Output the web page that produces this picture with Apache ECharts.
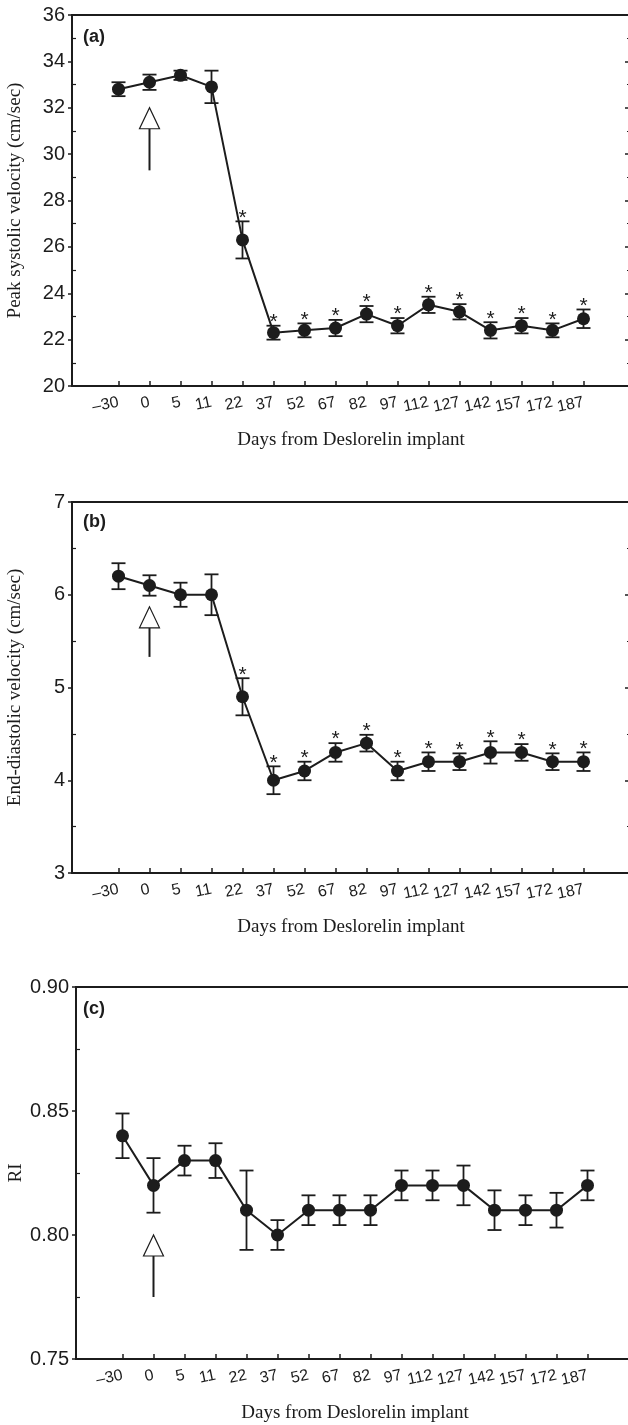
<!DOCTYPE html>
<html>
<head>
<meta charset="utf-8">
<script src="https://cdn.jsdelivr.net/npm/echarts@6/dist/echarts.min.js"></script>
<style>
  html, body { margin: 0; padding: 0; background: #fff; }
  #main { width: 628px; height: 1425px; }
</style>
</head>
<body>
<div id="main"></div>
<script>
// days from implant (x categories)
const days = ['\u201330', '0', '5', '11', '22', '37', '52', '67', '82', '97', '112', '127', '142', '157', '172', '187'];

// (a) peak systolic velocity, cm/sec
const psv    = [32.8, 33.1, 33.4, 32.9, 26.3, 22.3, 22.4, 22.5, 23.1, 22.6, 23.5, 23.2, 22.4, 22.6, 22.4, 22.9];
const psvErr = [0.3, 0.33, 0.2, 0.7, 0.8, 0.3, 0.3, 0.35, 0.35, 0.33, 0.35, 0.33, 0.35, 0.33, 0.3, 0.4];
const psvSig = [0, 0, 0, 0, 1, 1, 1, 1, 1, 1, 1, 1, 1, 1, 1, 1];

// (b) end-diastolic velocity, cm/sec
const edv    = [6.2, 6.1, 6.0, 6.0, 4.9, 4.0, 4.1, 4.3, 4.4, 4.1, 4.2, 4.2, 4.3, 4.3, 4.2, 4.2];
const edvErr = [0.14, 0.11, 0.13, 0.22, 0.2, 0.15, 0.1, 0.1, 0.09, 0.1, 0.1, 0.09, 0.12, 0.09, 0.09, 0.1];
const edvSig = [0, 0, 0, 0, 1, 1, 1, 1, 1, 1, 1, 1, 1, 1, 1, 1];

// (c) resistive index
const ri    = [0.84, 0.82, 0.83, 0.83, 0.81, 0.80, 0.81, 0.81, 0.81, 0.82, 0.82, 0.82, 0.81, 0.81, 0.81, 0.82];
const riErr = [0.009, 0.011, 0.006, 0.007, 0.016, 0.006, 0.006, 0.006, 0.006, 0.006, 0.006, 0.008, 0.008, 0.006, 0.007, 0.006];
const riSig = [0, 0, 0, 0, 0, 0, 0, 0, 0, 0, 0, 0, 0, 0, 0, 0];

// implant arrow: [x index, tip value, tail value]
const arrowA = [1, 32.0, 29.3];
const arrowB = [1, 5.87, 5.33];
const arrowC = [1, 0.80, 0.775];

// y-axis ticks
const yTicksA = { min: 20, max: 36, interval: 2, minor: [21, 23, 25, 27, 29, 31, 33, 35] };
const yTicksB = { min: 3, max: 7, interval: 1, minor: [3.5, 4.5, 5.5, 6.5] };
const yTicksC = { min: 0.75, max: 0.90, interval: 0.05, minor: [0.775, 0.825, 0.875] };

const ink = '#1c1c1c';
const sans = 'Liberation Sans';
const serif = 'Liberation Serif';
const idx = days.map((d, i) => i);

const chart = echarts.init(document.getElementById('main'));

const grids = [
  { left: 72, top: 15, width: 558, height: 371 },
  { left: 72, top: 502, width: 558, height: 371 },
  { left: 76, top: 987, width: 558, height: 372 }
];

const xAxes = grids.map((g, k) => ({
  type: 'value',
  gridIndex: k,
  min: -1.5,
  max: 16.5,
  name: 'Days from Deslorelin implant',
  nameLocation: 'middle',
  nameGap: 45,
  nameTextStyle: { fontFamily: serif, fontSize: 19, color: ink },
  axisLine: { show: true, onZero: false, lineStyle: { color: ink, width: 2 } },
  axisTick: { show: true, inside: true, length: 5, customValues: idx, lineStyle: { color: ink, width: 1.5 } },
  axisLabel: {
    customValues: idx,
    formatter: v => days[Math.round(v)],
    rotate: 12,
    margin: 16,
    fontFamily: sans,
    fontSize: 16,
    color: ink
  },
  splitLine: { show: false }
}));

function yAxesFor(k, t, name, digits, gap) {
  const base = { type: 'value', gridIndex: k, min: t.min, max: t.max, interval: t.interval, splitLine: { show: false } };
  return [
    Object.assign({}, base, {
      position: 'left',
      name: name,
      nameLocation: 'middle',
      nameGap: gap,
      nameMoveOverlap: false,
      nameTextStyle: { fontFamily: serif, fontSize: 19, color: ink },
      axisLine: { show: true, onZero: false, lineStyle: { color: ink, width: 2 } },
      axisTick: { show: true, inside: false, length: 4, lineStyle: { color: ink, width: 1.5 } },
      axisLabel: {
        margin: 7,
        fontFamily: sans,
        fontSize: 20,
        color: ink,
        formatter: v => v.toFixed(digits)
      }
    }),
    Object.assign({}, base, {
      position: 'left',
      axisLine: { show: false, onZero: false },
      axisLabel: { show: false },
      axisTick: { show: true, inside: true, length: 4, customValues: t.minor, lineStyle: { color: ink, width: 1.2 } }
    }),
    Object.assign({}, base, {
      position: 'right',
      axisLine: { show: true, onZero: false, lineStyle: { color: ink, width: 2 } },
      axisLabel: { show: false },
      axisTick: { show: true, inside: true, length: 5, lineStyle: { color: ink, width: 1.5 } },
      minorTick: { show: true, splitNumber: 2, length: 3, lineStyle: { color: ink, width: 1.2 } }
    })
  ];
}

const yAxes = [].concat(
  yAxesFor(0, yTicksA, 'Peak systolic velocity (cm/sec)', 0, 47),
  yAxesFor(1, yTicksB, 'End-diastolic velocity (cm/sec)', 0, 47),
  yAxesFor(2, yTicksC, 'RI', 2, 50)
);

function panelSeries(k, values, errs, sig, arrow) {
  const xi = k, yi = 3 * k;
  return [
    {
      type: 'custom',
      xAxisIndex: xi, yAxisIndex: yi,
      z: 2,
      silent: true,
      encode: { x: 0, y: [1, 2] },
      data: values.map((v, i) => [i, v - errs[i], v + errs[i]]),
      renderItem: function (params, api) {
        const lo = api.coord([api.value(0), api.value(1)]);
        const hi = api.coord([api.value(0), api.value(2)]);
        const w = 7;
        const st = { stroke: ink, lineWidth: 1.8 };
        return {
          type: 'group',
          children: [
            { type: 'line', shape: { x1: lo[0], y1: lo[1], x2: hi[0], y2: hi[1] }, style: st },
            { type: 'line', shape: { x1: lo[0] - w, y1: lo[1], x2: lo[0] + w, y2: lo[1] }, style: st },
            { type: 'line', shape: { x1: hi[0] - w, y1: hi[1], x2: hi[0] + w, y2: hi[1] }, style: st }
          ]
        };
      }
    },
    {
      type: 'line',
      xAxisIndex: xi, yAxisIndex: yi,
      z: 3,
      silent: true,
      data: values.map((v, i) => [i, v]),
      symbol: 'circle',
      symbolSize: 13,
      itemStyle: { color: ink },
      lineStyle: { color: ink, width: 2 }
    },
    {
      type: 'custom',
      xAxisIndex: xi, yAxisIndex: yi,
      z: 4,
      silent: true,
      encode: { x: 0, y: 1 },
      data: values.map((v, i) => [i, v + errs[i]]).filter((d, i) => sig[i]),
      renderItem: function (params, api) {
        const p = api.coord([api.value(0), api.value(1)]);
        return {
          type: 'text',
          x: p[0], y: p[1] + 7,
          style: { text: '*', align: 'center', verticalAlign: 'bottom', font: '21px "Liberation Sans"', fill: ink }
        };
      }
    },
    {
      type: 'custom',
      xAxisIndex: xi, yAxisIndex: yi,
      z: 4,
      silent: true,
      encode: { x: 0, y: [1, 2] },
      data: [arrow],
      renderItem: function (params, api) {
        const tip = api.coord([api.value(0), api.value(1)]);
        const tail = api.coord([api.value(0), api.value(2)]);
        const hw = 10, hh = 21;
        return {
          type: 'group',
          children: [
            { type: 'line', shape: { x1: tip[0], y1: tip[1] + hh, x2: tail[0], y2: tail[1] }, style: { stroke: ink, lineWidth: 2 } },
            { type: 'polygon', shape: { points: [[tip[0], tip[1]], [tip[0] - hw, tip[1] + hh], [tip[0] + hw, tip[1] + hh]] }, style: { fill: '#fff', stroke: ink, lineWidth: 1.2 } }
          ]
        };
      }
    }
  ];
}

const option = {
  backgroundColor: '#fff',
  animation: false,
  title: [
    { text: '(a)', left: 83, top: 28, padding: 0, textStyle: { fontFamily: sans, fontWeight: 'bold', fontSize: 18, color: ink } },
    { text: '(b)', left: 83, top: 513, padding: 0, textStyle: { fontFamily: sans, fontWeight: 'bold', fontSize: 18, color: ink } },
    { text: '(c)', left: 83, top: 1000, padding: 0, textStyle: { fontFamily: sans, fontWeight: 'bold', fontSize: 18, color: ink } }
  ],
  grid: grids.map(g => Object.assign({
    show: true, borderColor: ink, borderWidth: 2, backgroundColor: 'transparent',
    containLabel: false, outerBoundsMode: 'none'
  }, g)),
  xAxis: xAxes,
  yAxis: yAxes,
  series: [].concat(
    panelSeries(0, psv, psvErr, psvSig, arrowA),
    panelSeries(1, edv, edvErr, edvSig, arrowB),
    panelSeries(2, ri, riErr, riSig, arrowC)
  )
};

chart.setOption(option);
</script>
</body>
</html>
